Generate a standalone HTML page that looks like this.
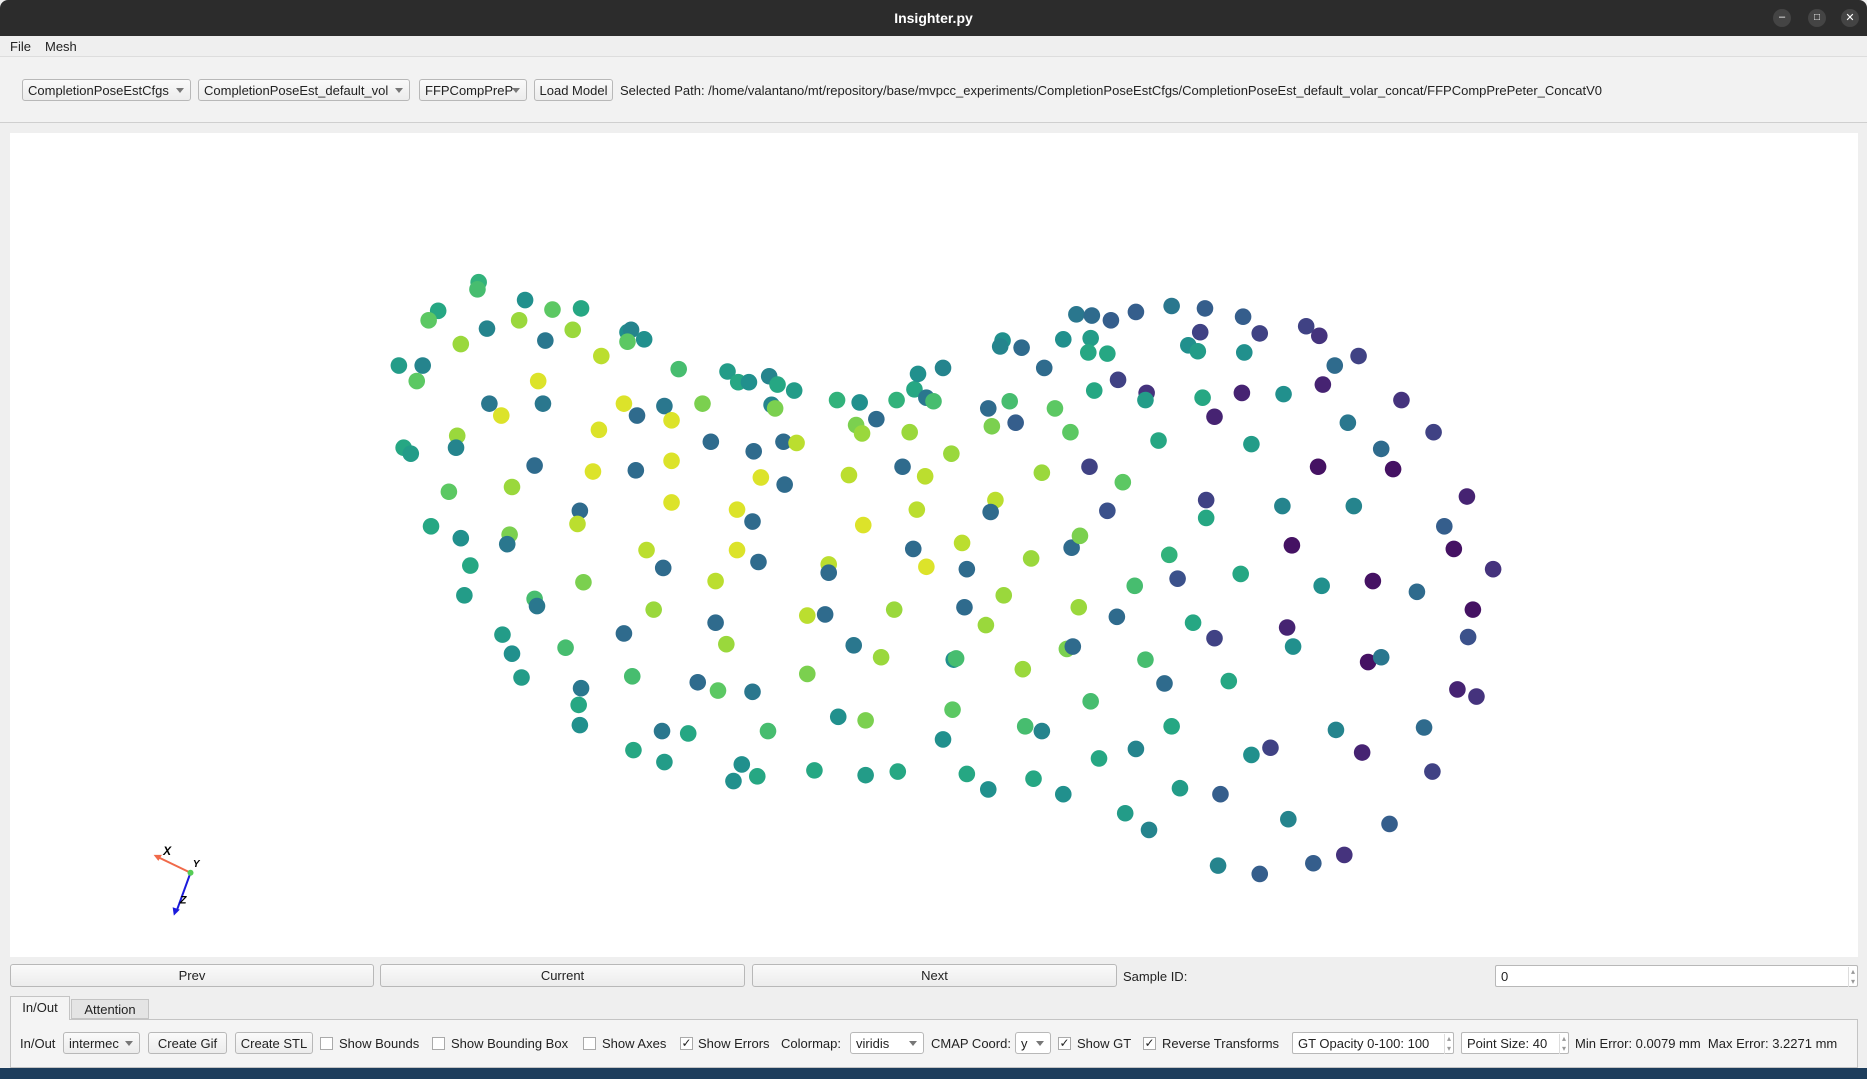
<!DOCTYPE html>
<html><head><meta charset="utf-8">
<style>
*{box-sizing:border-box;margin:0;padding:0}
body{width:1867px;height:1079px;background:#efefef;font-family:"Liberation Sans",sans-serif;font-size:13px;color:#222;position:relative;overflow:hidden}
.a{position:absolute}
.btn{position:absolute;border:1px solid #b8b8b8;border-radius:3px;background:linear-gradient(#fafafa,#ececec);display:flex;align-items:center;justify-content:center;font-size:13px;color:#222}
.combo{position:absolute;border:1px solid #b8b8b8;border-radius:3px;background:linear-gradient(#fafafa,#ececec);display:flex;align-items:center;padding-left:5px;font-size:13px;overflow:hidden;white-space:nowrap}
.combo::after{content:"";position:absolute;right:6px;top:50%;margin-top:-2px;border-left:4px solid transparent;border-right:4px solid transparent;border-top:5px solid #777}
.lbl{position:absolute;font-size:13px;white-space:nowrap}
.cb{position:absolute;width:13px;height:13px;border:1px solid #aaa;background:#fff;font-size:12px;line-height:11px;text-align:center}
.spin{position:absolute;border:1px solid #b8b8b8;border-radius:2px;background:#fff;display:flex;align-items:center;padding-left:5px;font-size:13px;white-space:nowrap}
.spin::after{content:"▴\A▾";white-space:pre;position:absolute;right:2px;top:1px;font-size:8px;line-height:10px;color:#999;border-left:1px solid #ddd;padding-left:2px}
</style></head><body>
<div class="a" style="left:0;top:0;width:1867px;height:36px;background:#2c2c2c;border-radius:8px 8px 0 0"></div>
<div class="a" style="left:0;top:0;width:1867px;height:36px;line-height:36px;text-align:center;color:#fff;font-weight:bold;font-size:14px">Insighter.py</div>
<div class="a" style="left:1773px;top:9px;width:18px;height:18px;border-radius:9px;background:#444;color:#fff;font-size:11px;text-align:center;line-height:16px">–</div>
<div class="a" style="left:1808px;top:9px;width:18px;height:18px;border-radius:9px;background:#444;color:#fff;font-size:10px;text-align:center;line-height:18px">□</div>
<div class="a" style="left:1841px;top:9px;width:18px;height:18px;border-radius:9px;background:#444;color:#fff;font-size:11px;text-align:center;line-height:18px">✕</div>

<div class="lbl" style="left:10px;top:39px">File</div>
<div class="lbl" style="left:45px;top:39px">Mesh</div>
<div class="a" style="left:0;top:56px;width:1867px;height:67px;background:#f2f2f2;border-top:1px solid #ddd;border-bottom:1px solid #cfcfcf"></div>
<div class="combo" style="left:22px;top:79px;width:169px;height:22px">CompletionPoseEstCfgs</div>
<div class="combo" style="left:198px;top:79px;width:212px;height:22px">CompletionPoseEst_default_vol</div>
<div class="combo" style="left:419px;top:79px;width:108px;height:22px">FFPCompPreP</div>
<div class="btn" style="left:534px;top:79px;width:79px;height:22px">Load Model</div>
<div class="lbl" style="left:620px;top:83px">Selected Path: /home/valantano/mt/repository/base/mvpcc_experiments/CompletionPoseEstCfgs/CompletionPoseEst_default_volar_concat/FFPCompPrePeter_ConcatV0</div>

<svg class="a" style="left:10px;top:133px" width="1848" height="824" id="plot"></svg>

<div class="btn" style="left:10px;top:964px;width:364px;height:23px">Prev</div>
<div class="btn" style="left:380px;top:964px;width:365px;height:23px">Current</div>
<div class="btn" style="left:752px;top:964px;width:365px;height:23px">Next</div>
<div class="lbl" style="left:1123px;top:969px">Sample ID:</div>
<div class="spin" style="left:1495px;top:965px;width:363px;height:22px">0</div>

<div class="a" style="left:10px;top:1019px;width:1848px;height:49px;border:1px solid #c4c4c4;background:#f4f4f4"></div>
<div class="a" style="left:10px;top:996px;width:60px;height:24px;border:1px solid #c4c4c4;border-bottom:none;background:#f4f4f4;text-align:center;line-height:22px">In/Out</div>
<div class="a" style="left:71px;top:999px;width:78px;height:20px;border:1px solid #c4c4c4;background:#e4e4e4;text-align:center;line-height:19px">Attention</div>

<div class="lbl" style="left:20px;top:1036px">In/Out</div>
<div class="combo" style="left:63px;top:1032px;width:77px;height:22px">intermec</div>
<div class="btn" style="left:148px;top:1032px;width:79px;height:22px">Create Gif</div>
<div class="btn" style="left:235px;top:1032px;width:78px;height:22px">Create STL</div>
<div class="cb" style="left:320px;top:1037px"></div><div class="lbl" style="left:339px;top:1036px">Show Bounds</div>
<div class="cb" style="left:432px;top:1037px"></div><div class="lbl" style="left:451px;top:1036px">Show Bounding Box</div>
<div class="cb" style="left:583px;top:1037px"></div><div class="lbl" style="left:602px;top:1036px">Show Axes</div>
<div class="cb" style="left:680px;top:1037px">✓</div><div class="lbl" style="left:698px;top:1036px">Show Errors</div>
<div class="lbl" style="left:781px;top:1036px">Colormap:</div>
<div class="combo" style="left:850px;top:1032px;width:74px;height:22px;background:#fff">viridis</div>
<div class="lbl" style="left:931px;top:1036px">CMAP Coord:</div>
<div class="combo" style="left:1015px;top:1032px;width:36px;height:22px;background:#fff">y</div>
<div class="cb" style="left:1058px;top:1037px">✓</div><div class="lbl" style="left:1077px;top:1036px">Show GT</div>
<div class="cb" style="left:1143px;top:1037px">✓</div><div class="lbl" style="left:1162px;top:1036px">Reverse Transforms</div>
<div class="spin" style="left:1292px;top:1032px;width:162px;height:22px">GT Opacity 0-100: 100</div>
<div class="spin" style="left:1461px;top:1032px;width:108px;height:22px">Point Size: 40</div>
<div class="lbl" style="left:1575px;top:1036px">Min Error: 0.0079 mm&nbsp;&nbsp;Max Error: 3.2271 mm</div>
<div class="a" style="left:0;top:1068px;width:1867px;height:11px;background:#1d3d5c"></div>

<script>
const pxs=[402,401,368,360,441,464,488,436,409,481,387,458,527,530,541,527,505,335,355,350,570,452,411,456,421,524,558,535,564,503,590,611,620,629,646,653,667,648,651,384,339,345,383,597,633,658,669,449,534,498,564,639,659,377,430,564,619,487,632,485,362,387,428,426,543,619,637,557,395,601,490,390,449,451,549,601,524,422,430,475,610,438,531,586,603,632,488,486,487,556,578,645,532,558,623,616,636,
703,722,736,753,768,771,792,778,784,719,724,764,799,758,713,777,725,770,767,808,696,778,696,812,678,693,751,810,828,843,717,740,801,803,678,800,704,727,792,684,727,754,812,830,868,893,861,875,916,923,954,984,991,945,965,859,896,901,962,978,1002,938,906,953,866,900,907,982,989,1042,1032,1020,1013,1013,943,930,915,875,836,832,833,830,848,853,886,899,919,939,963,962,973,1010,1020,1043,1078,1051,877,858,842,840,893,916,914,930,904,917,933,954,984,1012,1008,998,1006,1044,1058,1045,1097,1108,1121,1141,1111,1177,1132,1204,1160,1107,1170,1232,1077,1137,1213,1085,1221,1254,1153,1110,1190,1237,1081,1086,1233,1149,1160,1224,1240,1196,1122,1067,1051,1144,1203,1025,1082,1167,1129,1103,1023,1058];
const pys=[237,243,261,269,252,260,259,269,276,277,289,286,279,277,285,287,299,307,307,320,310,320,339,339,349,339,341,349,353,361,339,312,321,321,316,323,328,340,343,366,376,381,376,371,379,371,372,391,395,396,387,401,407,413,409,422,428,429,438,440,442,452,449,457,462,462,472,477,475,488,489,500,503,509,512,523,532,533,549,544,541,569,568,573,580,581,578,592,609,614,616,614,630,640,642,656,652,
336,338,352,336,327,314,309,334,337,357,364,363,381,392,399,400,441,428,461,456,474,476,481,478,517,516,512,510,525,500,542,552,554,553,566,596,602,605,621,647,651,648,650,663,654,667,610,614,589,637,629,610,662,683,697,562,545,543,554,574,523,518,510,492,469,460,450,466,486,482,572,536,420,435,405,429,392,397,420,430,358,343,337,355,343,363,328,319,330,336,370,334,350,330,331,373,309,292,286,291,285,284,296,297,264,265,269,262,257,259,279,290,295,266,280,296,274,282,307,299,323,336,355,363,377,392,394,417,425,425,442,458,461,478,488,492,497,512,527,543,535,556,552,579,585,611,613,628,634,632,648,667,688,692,718,725,727,734];
const pvals=[0.65,0.7,0.6,0.75,0.5,0.75,0.6,0.85,0.45,0.85,0.85,0.4,0.5,0.45,0.5,0.75,0.9,0.55,0.45,0.75,0.7,0.95,0.4,0.4,0.95,0.95,0.4,0.35,0.95,0.95,0.8,0.55,0.6,0.5,0.45,0.6,0.55,0.45,0.8,0.85,0.6,0.55,0.45,0.35,0.35,0.35,0.9,0.35,0.35,0.95,0.95,0.95,0.35,0.75,0.85,0.95,0.95,0.35,0.35,0.9,0.6,0.5,0.8,0.4,0.9,0.95,0.35,0.35,0.6,0.9,0.8,0.55,0.7,0.4,0.85,0.35,0.35,0.55,0.5,0.7,0.85,0.55,0.7,0.35,0.75,0.4,0.4,0.6,0.5,0.4,0.6,0.7,0.6,0.55,0.5,0.5,0.6,
0.65,0.5,0.35,0.65,0.6,0.5,0.45,0.4,0.7,0.8,0.85,0.85,0.85,0.35,0.9,0.9,0.95,0.9,0.35,0.9,0.9,0.95,0.35,0.35,0.9,0.35,0.85,0.35,0.85,0.85,0.4,0.85,0.5,0.7,0.8,0.75,0.5,0.8,0.5,0.6,0.55,0.6,0.6,0.5,0.6,0.5,0.7,0.45,0.7,0.6,0.45,0.6,0.55,0.55,0.45,0.85,0.8,0.35,0.7,0.35,0.6,0.35,0.85,0.7,0.85,0.35,0.8,0.65,0.25,0.6,0.6,0.2,0.2,0.6,0.75,0.25,0.2,0.85,0.9,0.35,0.8,0.35,0.7,0.3,0.75,0.75,0.6,0.2,0.15,0.55,0.6,0.6,0.1,0.1,0.5,0.55,0.35,0.35,0.5,0.45,0.5,0.55,0.6,0.6,0.4,0.35,0.3,0.3,0.4,0.3,0.2,0.5,0.55,0.3,0.2,0.5,0.2,0.15,0.35,0.2,0.1,0.15,0.4,0.2,0.35,0.05,0.05,0.1,0.45,0.45,0.3,0.05,0.05,0.15,0.05,0.5,0.35,0.05,0.1,0.5,0.25,0.05,0.4,0.1,0.15,0.35,0.45,0.2,0.5,0.1,0.2,0.3,0.45,0.3,0.15,0.3,0.45,0.3];

const S=1867/1568;
const xScale=v=>v*S-10;
const yScale=v=>v*S-133;
const stops=[[68,1,84],[71,44,122],[59,81,139],[44,113,142],[33,144,141],[39,173,129],[92,200,99],[170,220,50],[253,231,37]];
function viridis(t){t=Math.max(0,Math.min(1,t));const f=t*(stops.length-1),i=Math.min(stops.length-2,Math.floor(f)),r=f-i;const a=stops[i],b=stops[i+1];return `rgb(${a.map((c,k)=>Math.round(c+(b[k]-c)*r)).join(',')})`;}
const svg=document.getElementById('plot');
const NS='http://www.w3.org/2000/svg';
const bg=document.createElementNS(NS,'rect');
bg.setAttribute('width',1848);bg.setAttribute('height',824);bg.setAttribute('fill','#fff');


svg.appendChild(bg);
for(let i=0;i<pxs.length;i++){
  const c=document.createElementNS(NS,'circle');
  c.setAttribute('cx',xScale(pxs[i]));c.setAttribute('cy',yScale(pys[i]));c.setAttribute('r',8.3);
  c.setAttribute('fill',viridis(pvals[i]));
  
  
  svg.appendChild(c);
}
const g=document.createElementNS(NS,'g');


g.innerHTML=`<line x1="${xScale(160)}" y1="${yScale(733)}" x2="${xScale(131)}" y2="${yScale(719)}" stroke="#f06a4a" stroke-width="2"/>
<polygon points="${xScale(129)},${yScale(718)} ${xScale(136)},${yScale(718)} ${xScale(133)},${yScale(723)}" fill="#f06a4a"/>
<line x1="${xScale(160)}" y1="${yScale(733)}" x2="${xScale(148)}" y2="${yScale(766)}" stroke="#1a1adc" stroke-width="2"/>
<polygon points="${xScale(146)},${yScale(769)} ${xScale(145)},${yScale(762)} ${xScale(151)},${yScale(764)}" fill="#1a1adc"/>
<circle cx="${xScale(160)}" cy="${yScale(733)}" r="3" fill="#5c5"/>
<text x="${xScale(137)}" y="${yScale(718)}" font-size="12" font-style="italic" font-weight="bold" font-family="Liberation Sans">X</text>
<text x="${xScale(162)}" y="${yScale(728)}" font-size="10" font-style="italic" font-weight="bold" font-family="Liberation Sans">Y</text>
<text x="${xScale(151)}" y="${yScale(759)}" font-size="11" font-style="italic" font-weight="bold" font-family="Liberation Sans">Z</text>`;
svg.appendChild(g);
</script>
</body></html>
